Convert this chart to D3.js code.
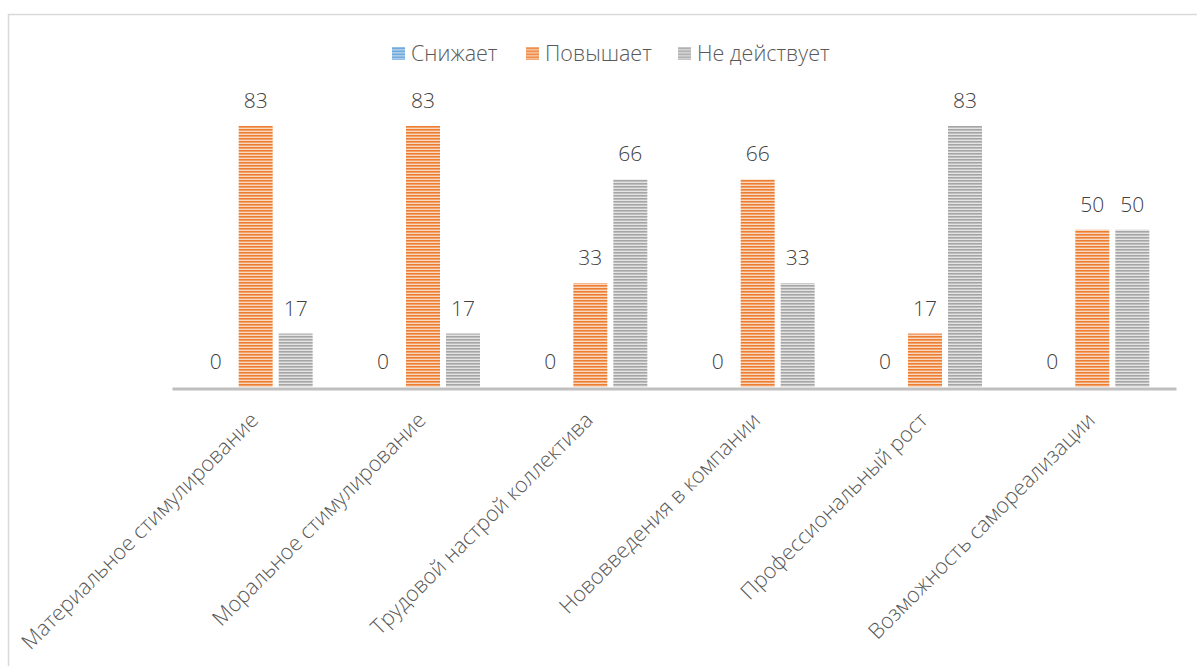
<!DOCTYPE html>
<html>
<head>
<meta charset="utf-8">
<script src="https://cdn.jsdelivr.net/npm/d3@7"></script>
<style>
  html, body { margin: 0; padding: 0; background: #fff; }
  svg { display: block; font-family: "Open Sans", "Noto Sans", sans-serif; }
</style>
</head>
<body>
<svg id="chart" width="1197" height="666"></svg>
<script>
// Факторы мотивации и их влияние (%)
const categories = [
  "Материальное стимулирование",
  "Моральное стимулирование",
  "Трудовой настрой коллектива",
  "Нововведения в компании",
  "Профессиональный рост",
  "Возможность самореализации"
];
const seriesNames = ["Снижает", "Повышает", "Не действует"];
const seriesColors = ["#5B9BD5", "#ED7D31", "#A5A5A5"];
const lowers   = [0, 0, 0, 0, 0, 0];
const raises   = [83, 83, 33, 66, 17, 50];
const neutral  = [17, 17, 66, 33, 83, 50];
const seriesValues = [lowers, raises, neutral];

const svg = d3.select("#chart");

// striped fills, one per series
const defs = svg.append("defs");
seriesColors.forEach((c, i) => {
  const p = defs.append("pattern")
    .attr("id", "stripe" + i)
    .attr("patternUnits", "userSpaceOnUse")
    .attr("width", 8).attr("height", 3);
  p.append("rect").attr("width", 8).attr("height", 3).attr("fill", c).attr("fill-opacity", 0.3);
  p.append("rect").attr("y", 1).attr("width", 8).attr("height", 1).attr("fill", c).attr("fill-opacity", 0.6);
  p.append("rect").attr("width", 8).attr("height", 1).attr("fill", c);
});

// chart frame
svg.append("rect")
  .attr("x", 8.5).attr("y", 14.5)
  .attr("width", 1400).attr("height", 1000)
  .attr("fill", "none").attr("stroke", "#D9D9D9").attr("stroke-width", 1.5);

const plotLeft = 172, plotRight = 1176, baseY = 387;
const x0 = d3.scaleBand().domain(categories).range([plotLeft, plotRight]);
const groupW = 120;
const x1 = d3.scaleBand().domain(seriesNames).range([0, groupW]);
const barW = 34;
const y = d3.scaleLinear().domain([0, 100]).range([baseY, 72.5]);

const data = [];
categories.forEach((c, ci) => {
  seriesNames.forEach((s, si) => {
    data.push({ cat: c, series: s, si, value: seriesValues[si][ci] });
  });
});

const barX = d => x0(d.cat) + x0.bandwidth() / 2 - groupW / 2 + x1(d.series) + (x1.bandwidth() - barW) / 2;

svg.append("g").selectAll("rect")
  .data(data)
  .join("rect")
  .attr("x", barX)
  .attr("y", d => y(d.value))
  .attr("width", barW)
  .attr("height", d => baseY - y(d.value))
  .attr("fill", d => `url(#stripe${d.si})`);

// value labels
svg.append("g").selectAll("text")
  .data(data)
  .join("text")
  .attr("x", d => barX(d) + barW / 2)
  .attr("y", d => y(d.value) - 18)
  .attr("text-anchor", "middle")
  .attr("font-size", 21)
  .attr("font-weight", 300)
  .attr("fill", "#404040")
  .text(d => d.value);

// category axis
const xAxis = svg.append("g")
  .attr("transform", `translate(0,${baseY + 1.5})`)
  .call(d3.axisBottom(x0).tickSize(0).tickPadding(0));
xAxis.select(".domain").attr("stroke", "#BFBFBF").attr("stroke-width", 3);
xAxis.selectAll(".tick text")
  .attr("font-size", 21.5)
  .attr("font-weight", 300)
  .attr("font-family", "\"Open Sans\", \"Noto Sans\", sans-serif")
  .attr("fill", "#595959")
  .attr("text-anchor", "end")
  .attr("dy", 0)
  .attr("transform", "translate(4,33) rotate(-45)");

// legend
const legendItems = [
  { name: seriesNames[0], si: 0, x: 392 },
  { name: seriesNames[1], si: 1, x: 526 },
  { name: seriesNames[2], si: 2, x: 678 }
];
const lg = svg.append("g").selectAll("g")
  .data(legendItems)
  .join("g")
  .attr("transform", d => `translate(${d.x},53.5)`);
lg.append("rect")
  .attr("x", 0).attr("y", -6.5).attr("width", 13).attr("height", 13)
  .attr("fill", d => `url(#stripe${d.si})`);
lg.append("text")
  .attr("x", 19).attr("y", 0).attr("dy", "0.35em")
  .attr("font-size", 21.5)
  .attr("font-weight", 300)
  .attr("fill", "#595959")
  .text(d => d.name);
</script>
</body>
</html>
